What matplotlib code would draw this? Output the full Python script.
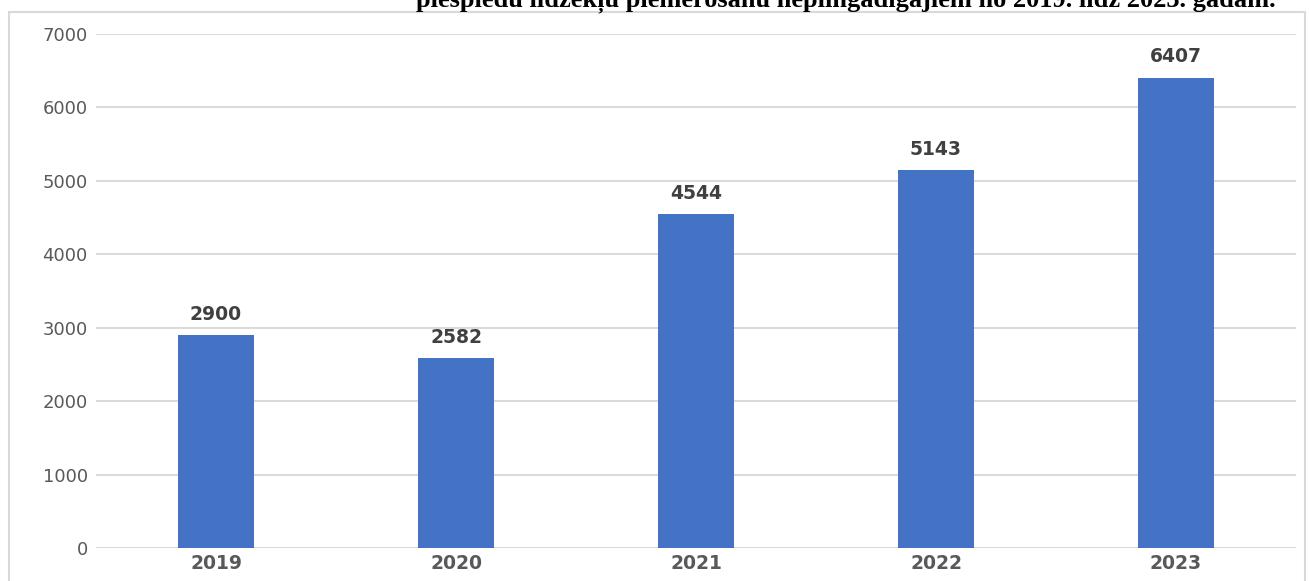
import matplotlib
matplotlib.use("Agg")
import matplotlib.pyplot as plt
from matplotlib.patches import Rectangle

plt.rcParams["font.family"] = ["DejaVu Sans"]

years = ["2019", "2020", "2021", "2022", "2023"]
values = [2900, 2582, 4544, 5143, 6407]
yticks = [0, 1000, 2000, 3000, 4000, 5000, 6000, 7000]
title = "piespiedu līdzekļu piemērošanu nepilngadīgajiem no 2019. līdz 2023. gadam."

W, H = 1309, 581
fig = plt.figure(figsize=(W / 100, H / 100), dpi=100)
fig.patch.set_facecolor("white")

# outer chart frame
fig.patches.append(Rectangle((9 / W, -0.1), (1305 - 9) / W, 1.1 - 12 / H,
                             transform=fig.transFigure, fill=False,
                             edgecolor="#d9d9d9", linewidth=1.5))

ax = fig.add_axes([96 / W, 1 - 548 / H, 1200 / W, (548 - 34) / H])
x = list(range(len(years)))
ax.bar(x, values, width=0.317, color="#4472c4", zorder=3)
ax.set_xlim(-0.5, len(years) - 0.5)
ax.set_ylim(0, 7000)
ax.set_yticks(yticks)
ax.set_yticklabels([str(t) for t in yticks])
ax.set_xticks(x)
ax.set_xticklabels(years, fontweight="bold")
ax.grid(axis="y", color="#d9d9d9", linewidth=1.4, zorder=0)
for s in ax.spines.values():
    s.set_visible(False)
ax.tick_params(axis="y", length=0, labelsize=13, colors="#595959", pad=6)
ax.tick_params(axis="x", length=0, labelsize=13.5, colors="#595959", pad=4)

for xi, v in zip(x, values):
    ax.annotate(str(v), (xi, v), xytext=(0, 8), textcoords="offset points",
                ha="center", va="bottom", fontsize=13.5, fontweight="bold",
                color="#404040")

fig.text(1276 / W, 1 - 6 / H, title, ha="right", va="baseline",
         family="Liberation Serif", fontweight="bold", fontsize=19, color="black")

fig.savefig("out.png", dpi=100)
